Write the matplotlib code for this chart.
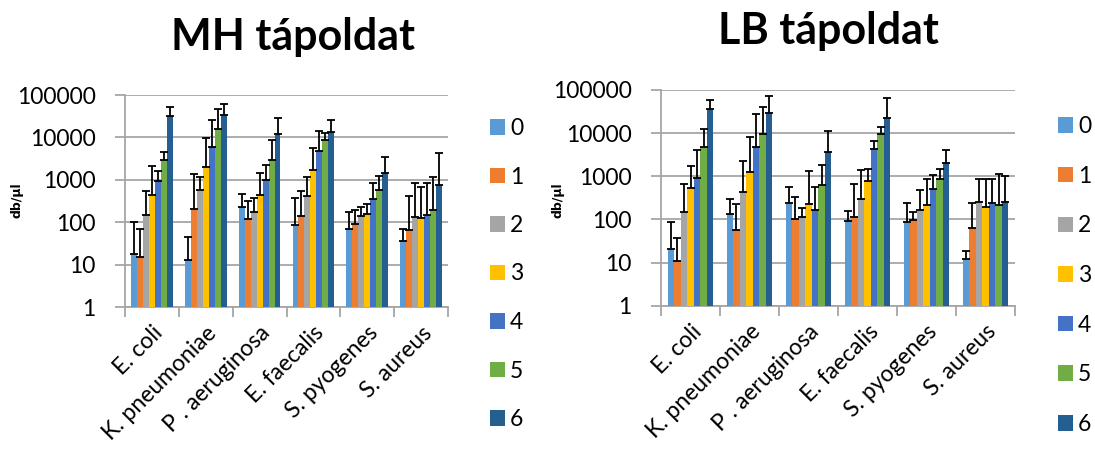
import numpy as np
import matplotlib
matplotlib.use("Agg")
import matplotlib.pyplot as plt
from matplotlib.patches import Patch

# categories and series
species = ["E. coli", "K. pneumoniae", "P . aeruginosa", "E. faecalis",
           "S. pyogenes", "S. aureus"]
series = ["0", "1", "2", "3", "4", "5", "6"]
colors = ["#5B9BD5", "#ED7D31", "#A5A5A5", "#FFC000",
          "#4472C4", "#70AD47", "#255E91"]
y_ticks = [1, 10, 100, 1000, 10000, 100000]

# MH medium: mean values per series (rows) and species (columns)
mh_mean = [
    [18, 13, 232, 84, 68, 36],
    [15, 200, 119, 137, 89, 65],
    [145, 590, 170, 420, 137, 135],
    [446, 1990, 430, 1700, 156, 124],
    [915, 6100, 1000, 4800, 357, 144],
    [2870, 16000, 2960, 8500, 582, 199],
    [31800, 34000, 12100, 13300, 1420, 745],
]
# MH medium: top of the error bar
mh_top = [
    [100, 45, 452, 370, 173, 69],
    [68, 1340, 316, 540, 196, 417],
    [540, 1160, 370, 1160, 228, 860],
    [2060, 9800, 1470, 5600, 262, 666],
    [1580, 25500, 2230, 14000, 836, 860],
    [4500, 45700, 8760, 12600, 1260, 1140],
    [53500, 62000, 28000, 25500, 3500, 4350],
]

# LB medium
lb_mean = [
    [21, 131, 240, 93, 89, 12],
    [11, 57, 104, 114, 97, 62],
    [145, 433, 111, 298, 168, 258],
    [545, 1280, 227, 764, 215, 197],
    [895, 4790, 162, 4270, 500, 240],
    [4790, 9550, 628, 9350, 866, 215],
    [35600, 28800, 3580, 22000, 2030, 253],
]
lb_top = [
    [85, 302, 573, 159, 240, 19],
    [38, 224, 337, 675, 150, 240],
    [660, 2250, 187, 1420, 470, 866],
    [1730, 7960, 1320, 1500, 880, 850],
    [4050, 27700, 573, 6600, 1050, 850],
    [12700, 41000, 1820, 14100, 1450, 1130],
    [57600, 72800, 11000, 64000, 4170, 1000],
]

FONT = "Lato"
FS = 16.5
W, H = 1095, 454


def draw_panel(fig, rect, mean, top, title, title_xy, ylabel_x, legend_xy,
               spacing):
    ax = fig.add_axes(rect)
    x = np.arange(len(species))
    n = len(series)
    width = 0.111
    for i in range(n):
        vals = np.array(mean[i], dtype=float)
        err = np.array(top[i], dtype=float) - vals
        pos = x + (i - (n - 1) / 2) * width
        ax.bar(pos, vals, width, color=colors[i], zorder=3)
        ax.errorbar(pos, vals, yerr=[np.zeros_like(vals), err], fmt="none",
                    ecolor="black", elinewidth=1.3, capsize=3.2,
                    capthick=1.3, zorder=4)

    ax.set_yscale("log")
    ax.set_ylim(1, 100000)
    ax.set_xlim(-0.5, len(species) - 0.5)
    ax.set_yticks(y_ticks)
    ax.set_yticklabels([str(t) for t in y_ticks], fontsize=FS,
                       fontfamily=FONT)
    ax.yaxis.set_minor_locator(matplotlib.ticker.NullLocator())
    ax.grid(axis="y", color="#a6a6a6", linewidth=1.3, zorder=0)

    # category boundaries as ticks, names at centers
    ax.set_xticks(np.arange(len(species) + 1) - 0.5)
    ax.set_xticklabels([])
    ax.set_xticks(x, minor=True)
    ax.set_xticklabels(species, minor=True, rotation=45, ha="right",
                       rotation_mode="anchor", fontsize=FS,
                       fontfamily=FONT)
    ax.tick_params(axis="x", which="major", length=7, color="#a6a6a6",
                   width=1.3)
    ax.tick_params(axis="x", which="minor", length=0, pad=11)
    ax.tick_params(axis="y", length=7, color="#a6a6a6", width=1.3, pad=14)

    for side in ["top", "right"]:
        ax.spines[side].set_visible(False)
    for side in ["left", "bottom"]:
        ax.spines[side].set_color("#a6a6a6")
        ax.spines[side].set_linewidth(1.3)

    fig.text(ylabel_x / W, 1 - 200 / H, "db/µl", rotation=90, ha="center",
             va="center", fontsize=9, fontweight="bold",
             fontfamily="DejaVu Sans")
    fig.text(title_xy[0] / W, 1 - title_xy[1] / H, title, ha="center",
             va="center", fontsize=31, fontweight="bold", fontfamily=FONT)

    handles = [Patch(facecolor=c) for c in colors]
    fig.legend(handles, series, loc="upper left",
               bbox_to_anchor=(legend_xy[0] / W, 1 - legend_xy[1] / H),
               frameon=False, prop={"family": FONT, "size": FS},
               handlelength=0.66, handleheight=0.66, handletextpad=0.22,
               labelspacing=spacing, borderpad=0, borderaxespad=0)
    return ax


def main():
    fig = plt.figure(figsize=(W / 100, H / 100), dpi=100)

    draw_panel(fig, [125 / W, (H - 307) / H, 323 / W, 212 / H],
               mh_mean, mh_top, "MH tápoldat", (293, 37), 17, (490, 118),
               1.2)
    draw_panel(fig, [661 / W, (H - 305.7) / H, 354 / W, 215.7 / H],
               lb_mean, lb_top, "LB tápoldat", (828, 31), 558, (1058, 116),
               1.25)

    fig.savefig("out.png", dpi=100)


if __name__ == "__main__":
    main()
